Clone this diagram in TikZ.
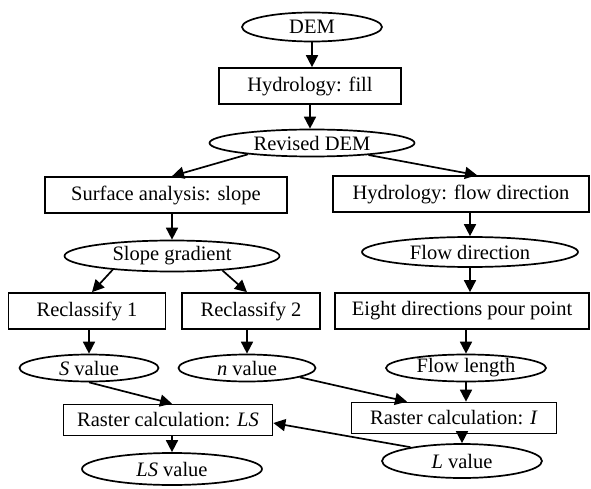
\documentclass[tikz,border=0pt]{standalone}
\usepackage{fontspec}
\setmainfont{Liberation Serif}
\usetikzlibrary{shapes.geometric,arrows.meta,calc}
\tikzset{
  proc/.style={draw,line width=1.7pt,rectangle,inner sep=0pt,minimum height=36pt},
  data/.style={draw,line width=1.7pt,ellipse,inner sep=0pt,minimum height=27pt},
  arr/.style={line width=1.7pt,-{Triangle[length=12pt,width=12pt]}}
}
\begin{document}
\begin{tikzpicture}[x=1pt,y=-1pt,font=\fontsize{20.5}{24}\selectfont]
		  \useasboundingbox (0,0) rectangle (591,489);
		  % top
		  \node[data,minimum width=140pt,minimum height=29pt] (dem) at (312,27) {DEM};
		  \node[proc,minimum width=182pt] (fill) at (310,86) {Hydrology: fill};
		  \node[data,minimum width=205pt] (rdem) at (312,143) {Revised DEM};
		  % slope branch
		  \node[proc,minimum width=242pt] (surf) at (166,195) {Surface analysis: slope};
		  \node[data,minimum width=215pt,minimum height=31pt] (slope) at (172,256) {Slope gradient};
		  \node[proc,minimum width=157pt] (recl1) at (87,311) {Reclassify 1};
		  \node[proc,minimum width=138pt] (recl2) at (251,311) {Reclassify 2};
		  \node[data,minimum width=139pt] (sval) at (89,368) {\textit{S} value};
		  \node[data,minimum width=137pt] (nval) at (247,368) {\textit{n} value};
		  \node[proc,minimum width=209pt,minimum height=31pt] (rls) at (168,420) {Raster calculation: \textit{LS}};
		  \node[data,minimum width=180pt,minimum height=32pt] (lsval) at (172,469) {\textit{LS} value};
		  % flow branch
		  \node[proc,minimum width=256pt] (hflow) at (461,194) {Hydrology: flow direction};
		  \node[data,minimum width=216pt,minimum height=30pt] (fdir) at (470,252) {Flow direction};
		  \node[proc,minimum width=254pt] (eight) at (462,311) {Eight directions pour point};
		  \node[data,minimum width=160pt] (flen) at (466,368) {Flow length};
		  \node[proc,minimum width=205pt,minimum height=31pt] (ri) at (454,418) {Raster calculation: \textit{I}};
		  \node[data,minimum width=160pt,minimum height=34pt] (lval) at (462,461) {\textit{L} value};
		  % connectors
		  \draw[arr] (dem) -- (dem |- fill.north);
		  \draw[arr] (fill) -- (fill |- rdem.north);
		  \draw[arr] (rdem.190) -- (slope |- surf.north);
		  \draw[arr] (rdem.348) -- ($(hflow.north)+(16,0)$);
		  \draw[arr] (slope |- surf.south) -- (slope);
		  \draw[arr] (slope.193) -- ($(recl1.north)+(5,0)$);
		  \draw[arr] (slope.344) -- (nval |- recl2.north);
		  \draw[arr] (sval |- recl1.south) -- (sval);
		  \draw[arr] (nval |- recl2.south) -- (nval);
		  \draw[arr] (sval.south) -- (lsval |- rls.north);
		  \draw[arr] (nval.350) -- ($(ri.north)+(-47,0)$);
		  \draw[arr] (lsval |- rls.south) -- (lsval);
		  \draw[arr] (fdir |- hflow.south) -- (fdir);
		  \draw[arr] (fdir) -- (fdir |- eight.north);
		  \draw[arr] (flen |- eight.south) -- (flen);
		  \draw[arr] (flen) -- (flen |- ri.north);
		  \draw[arr] (lval |- ri.south) -- (lval);
		  \draw[arr] (lval.165) -- ($(rls.east)+(0,3)$);
\end{tikzpicture}
\end{document}
